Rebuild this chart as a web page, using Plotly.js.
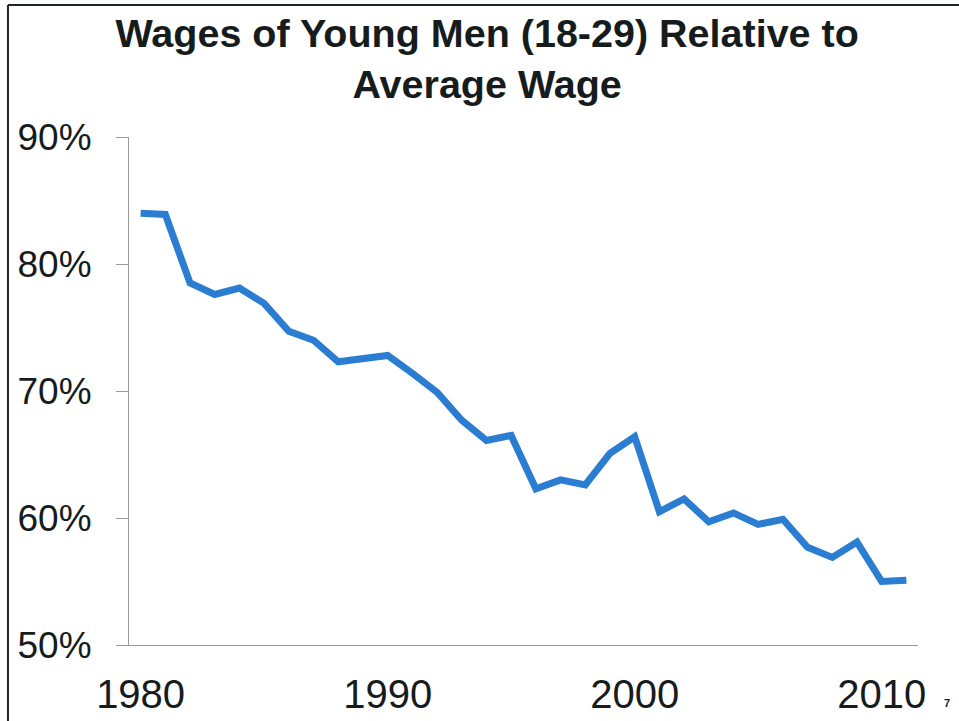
<!DOCTYPE html>
<html>
<head>
<meta charset="utf-8">
<script src="https://cdn.plot.ly/plotly-3.0.1.min.js"></script>
<style>
  html, body { margin: 0; padding: 0; background: #fff; }
  #chart { width: 959px; height: 721px; }
</style>
</head>
<body>
<div id="chart"></div>
<script>
// Wages of young men (18-29) as a share of the average wage
const years = [
  1980, 1981, 1982, 1983, 1984, 1985, 1986, 1987, 1988, 1989,
  1990, 1991, 1992, 1993, 1994, 1995, 1996, 1997, 1998, 1999,
  2000, 2001, 2002, 2003, 2004, 2005, 2006, 2007, 2008, 2009,
  2010, 2011,
];
const relWage = [
  84.0, 83.9, 78.5, 77.6, 78.1, 76.9, 74.7, 74.0, 72.3, 72.5,
  72.8, 71.4, 69.9, 67.7, 66.1, 66.5, 62.3, 63.0, 62.6, 65.1,
  66.4, 60.5, 61.5, 59.7, 60.4, 59.5, 59.9, 57.7, 56.9, 58.1,
  55.0, 55.1,
];
const xTicks = [1980, 1990, 2000, 2010];
const yTicks = [50, 60, 70, 80, 90];

const LINE_COLOR = "#2b7dd2";
const TEXT_COLOR = "#161c1c";
const AXIS_COLOR = "#9a9a9a";
const FRAME_COLOR = "#1c2626";
const FONT = "Liberation Sans, Arial, sans-serif";

const traces = [
  {
    x: years,
    y: relWage,
    type: "scatter",
    mode: "lines",
    line: { color: LINE_COLOR, width: 7 },
    hoverinfo: "skip",
  },
];

// frame of the scanned slide: top and left edges
const shapes = [
  {
    type: "line", xref: "paper", yref: "paper",
    x0: -0.1534, x1: 1.06, y0: 1.2598, y1: 1.2598,
    line: { color: FRAME_COLOR, width: 2 },
  },
  {
    type: "line", xref: "paper", yref: "paper",
    x0: -0.1534, x1: -0.1534, y0: 1.2598, y1: -0.16,
    line: { color: FRAME_COLOR, width: 2 },
  },
];

const annotations = [
  {
    text: "<b>7</b>", xref: "paper", yref: "paper",
    x: 1.043, y: -0.13, showarrow: false,
    font: { family: FONT, size: 11, color: TEXT_COLOR },
  },
];

const layout = {
  width: 959,
  height: 721,
  paper_bgcolor: "#ffffff",
  plot_bgcolor: "#ffffff",
  margin: { l: 129, r: 41, t: 137, b: 76 },
  showlegend: false,
  font: { family: FONT, color: TEXT_COLOR },
  title: {
    text: "Wages of Young Men (18-29) Relative to<br>Average Wage",
    font: { family: FONT, size: 39.5, weight: "bold", color: TEXT_COLOR },
    xref: "container", x: 0.508, xanchor: "center",
    yref: "container", y: 0.935, yanchor: "top",
  },
  xaxis: {
    range: [1979.53, 2011.47],
    tickvals: xTicks,
    ticktext: xTicks.map(String),
    ticks: "",
    ticklabelstandoff: 14,
    tickfont: { family: FONT, size: 40, color: TEXT_COLOR },
    showline: true, linecolor: AXIS_COLOR, linewidth: 1,
    showgrid: false, zeroline: false,
  },
  yaxis: {
    range: [50, 90],
    tickvals: yTicks,
    ticktext: yTicks.map((v) => v + "%"),
    ticks: "outside", ticklen: 12, tickcolor: AXIS_COLOR, tickwidth: 1,
    ticklabelstandoff: 17,
    tickfont: { family: FONT, size: 37, color: TEXT_COLOR },
    showline: true, linecolor: AXIS_COLOR, linewidth: 1,
    showgrid: false, zeroline: false,
  },
  shapes,
  annotations,
};

Plotly.newPlot("chart", traces, layout, { displayModeBar: false, staticPlot: true });
</script>
</body>
</html>
